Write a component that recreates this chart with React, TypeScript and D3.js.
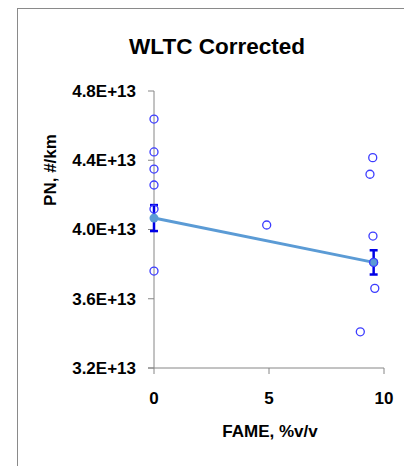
import React from 'react';
import * as d3 from 'd3';

// PN values in units of 1E+13 #/km
const fameValues = [0, 0, 0, 0, 0, 0, 4.9, 9.51, 9.39, 9.52, 9.55, 9.6, 8.97];
const pnValues = [4.638, 4.448, 4.349, 4.257, 4.118, 3.76, 4.026, 4.415, 4.319, 3.962, 3.81, 3.66, 3.409];

const meanFame = [0, 9.55];
const meanPN = [4.066, 3.81];
const meanErr = [0.075, 0.07];

const xTicks = [0, 5, 10];
const yTicks = [3.2, 3.6, 4.0, 4.4, 4.8];

const W = 404;
const H = 466;
const font = '"Liberation Sans", Arial, sans-serif';
const fs = 17;

const App = () => {
    const x = d3.scaleLinear().domain([0, 10]).range([154, 384]);
    const y = d3.scaleLinear().domain([3.2, 4.8]).range([368, 91]);

    const line = d3.line<number>()
        .x((d, i) => x(meanFame[i]))
        .y(d => y(d));

    return (
        <svg width={W} height={H} style={{ position: 'absolute', left: 0, top: 0, background: '#fff' }}>
            {/* outer chart frame, runs off the picture on the right and bottom */}
            <rect x={17.5} y={8.5} width={500} height={500} fill="#fff" stroke="#8a8a8a" strokeWidth={1} />

            <text x={217} y={54} textAnchor="middle" fontFamily={font} fontWeight="bold" fontSize={22.5} fill="#000">
                WLTC Corrected
            </text>

            {/* y axis */}
            <line x1={x(0)} x2={x(0)} y1={y(4.8)} y2={y(3.2)} stroke="#868686" />
            {yTicks.map(t => (
                <g key={t}>
                    <line x1={x(0) - 6} x2={x(0)} y1={y(t)} y2={y(t)} stroke="#868686" />
                    <text x={136} y={y(t)} dy="0.35em" textAnchor="end" fontFamily={font} fontWeight="bold" fontSize={fs} fill="#000">
                        {t.toFixed(1)}E+13
                    </text>
                </g>
            ))}

            {/* x axis */}
            <line x1={x(0) - 6} x2={x(10)} y1={y(3.2)} y2={y(3.2)} stroke="#868686" />
            {xTicks.map(t => (
                <g key={t}>
                    <line x1={x(t)} x2={x(t)} y1={y(3.2)} y2={y(3.2) + 6} stroke="#868686" />
                    <text x={x(t)} y={404} textAnchor="middle" fontFamily={font} fontWeight="bold" fontSize={fs} fill="#000">
                        {t}
                    </text>
                </g>
            ))}

            <text x={270} y={437} textAnchor="middle" fontFamily={font} fontWeight="bold" fontSize={fs} fill="#000">
                FAME, %v/v
            </text>
            <text transform="translate(56,170) rotate(-90)" textAnchor="middle" fontFamily={font} fontWeight="bold" fontSize={fs} fill="#000">
                PN, #/km
            </text>

            {/* error bars on the means */}
            {meanPN.map((m, i) => (
                <g key={i} stroke="#0000e6" strokeWidth={2.5}>
                    <line x1={x(meanFame[i])} x2={x(meanFame[i])} y1={y(m + meanErr[i])} y2={y(m - meanErr[i])} />
                    <line x1={x(meanFame[i]) - 4} x2={x(meanFame[i]) + 4} y1={y(m + meanErr[i])} y2={y(m + meanErr[i])} />
                    <line x1={x(meanFame[i]) - 4} x2={x(meanFame[i]) + 4} y1={y(m - meanErr[i])} y2={y(m - meanErr[i])} />
                </g>
            ))}

            <path d={line(meanPN) || ''} fill="none" stroke="#5b9bd5" strokeWidth={3} />
            {meanPN.map((m, i) => (
                <circle key={i} cx={x(meanFame[i])} cy={y(m)} r={4.5} fill="#5b9bd5" />
            ))}

            {pnValues.map((v, i) => (
                <circle key={i} cx={x(fameValues[i])} cy={y(v)} r={4} fill="none" stroke="#3c3cff" strokeWidth={1.3} />
            ))}
        </svg>
    );
};

export default App;
